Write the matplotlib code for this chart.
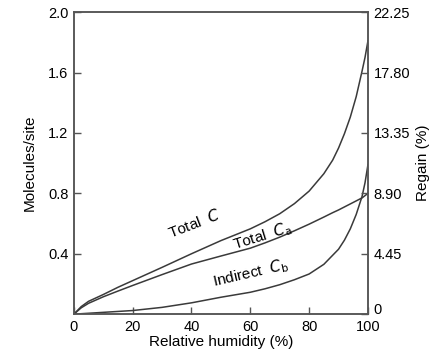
import numpy as np
import matplotlib.pyplot as plt
import matplotlib.transforms as mtransforms

plt.rcParams["font.family"] = ["Liberation Sans", "DejaVu Sans"]

# ── Data ──────────────────────────────────────────────────────────────────
rh = [0, 2.5, 5, 10, 15, 20, 30, 40, 50, 60, 65, 70, 75, 80, 85, 88,
      90, 92, 94, 96, 98, 99, 100]
total_c = [0, 0.05, 0.085, 0.13, 0.178, 0.222, 0.31, 0.40, 0.487, 0.565,
           0.612, 0.665, 0.732, 0.815, 0.93, 1.02, 1.10, 1.195, 1.305,
           1.44, 1.61, 1.70, 1.81]
total_ca = [0, 0.042, 0.072, 0.115, 0.153, 0.19, 0.262, 0.332, 0.385,
            0.437, 0.472, 0.51, 0.552, 0.596, 0.643, 0.672, 0.69, 0.71,
            0.73, 0.75, 0.77, 0.785, 0.80]
indirect_cb = [0, 0.003, 0.006, 0.012, 0.018, 0.024, 0.045, 0.075, 0.112,
               0.145, 0.168, 0.195, 0.228, 0.266, 0.33, 0.39, 0.43, 0.49,
               0.565, 0.66, 0.78, 0.87, 0.99]

left_ticks = [0.4, 0.8, 1.2, 1.6, 2.0]
right_ticks = [0, 4.45, 8.90, 13.35, 17.80, 22.25]
x_ticks = [0, 20, 40, 60, 80, 100]

fig = plt.figure(figsize=(4.37, 3.57), dpi=100)
ax = fig.add_axes([0.169, 0.120, 0.673, 0.846])

line_kw = dict(color="#3a3a3a", lw=1.1, solid_joinstyle="round")
ax.plot(rh, total_c, **line_kw)
ax.plot(rh, total_ca, **line_kw)
ax.plot(rh, indirect_cb, **line_kw)

ax.set_xlim(0, 100); ax.set_ylim(0, 2.0)
ax.set_xticks(x_ticks)
ax.set_yticks(left_ticks)
ax.set_yticklabels([f"{v:.1f}" for v in left_ticks])
ax.tick_params(direction="in", length=5, width=1, color="#555555",
               labelsize=10.5, pad=4)
ax.set_xlabel("Relative humidity (%)", fontsize=11, labelpad=1)
ax.set_ylabel("Molecules/site", fontsize=11, labelpad=8)

ax2 = ax.twinx()
ax2.set_ylim(0, 22.25)
ax2.set_yticks(right_ticks)
ax2.set_yticklabels(["0"] + [f"{v:.2f}" for v in right_ticks[1:]])
ax2.tick_params(direction="in", length=5, width=1, color="#555555",
                labelsize=10.5, pad=4)
ax2.set_ylabel("Regain (%)", fontsize=11, labelpad=4)
# lift the right-hand "0" a little so it clears the "100" below it
zero_lbl = ax2.get_yticklabels()[0]
zero_lbl.set_transform(zero_lbl.get_transform() +
                       mtransforms.ScaledTranslation(0, 4 / 72, fig.dpi_scale_trans))

for a in (ax, ax2):
    for s in a.spines.values():
        s.set_color("#555555"); s.set_linewidth(1.1)

ax.text(41, 0.60, "Total  $C$", rotation=21, fontsize=11,
        ha="center", va="center")
ax.text(64, 0.515, "Total  $C_{\\mathrm{a}}$", rotation=17, fontsize=11,
        ha="center", va="center")
ax.text(60, 0.27, "Indirect  $C_{\\mathrm{b}}$", rotation=13, fontsize=11,
        ha="center", va="center")

fig.savefig("out.png", dpi=100)
